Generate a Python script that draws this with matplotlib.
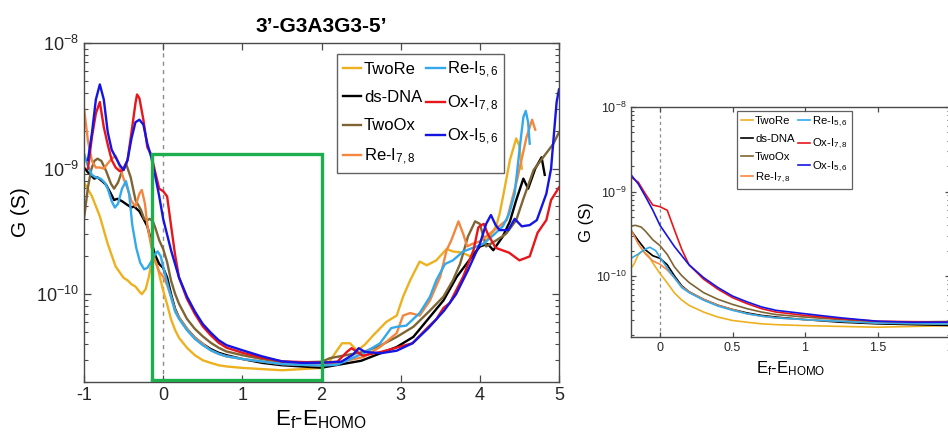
import matplotlib
matplotlib.use("Agg")
import matplotlib.pyplot as plt
from matplotlib.ticker import LogLocator, NullFormatter

plt.rcParams['font.family'] = ['Liberation Sans', 'DejaVu Sans']
plt.rcParams['mathtext.default'] = 'regular'
plt.rcParams['axes.unicode_minus'] = False

# ---- conductance spectra G(E_f - E_HOMO), in siemens ----
x_twore = [-1.0, -0.9, -0.8, -0.7, -0.6, -0.5, -0.45, -0.4, -0.35, -0.3, -0.27, -0.22, -0.18,
           -0.15, -0.12, -0.08, -0.04, 0.0, 0.05, 0.1, 0.15, 0.2, 0.3, 0.4, 0.5, 0.6, 0.7, 0.8,
           1.0, 1.5, 2.0, 2.1, 2.2, 2.26, 2.36, 2.45, 2.55, 2.65, 2.82, 2.95, 3.03, 3.12, 3.24,
           3.33, 3.45, 3.58, 3.66, 3.78, 3.88, 4.04, 4.15, 4.21, 4.25, 4.3, 4.38, 4.46, 4.5, 4.53]
g_twore = [7.76e-10, 6.03e-10, 4.17e-10, 2.51e-10, 1.66e-10, 1.35e-10, 1.29e-10, 1.20e-10,
           1.15e-10, 1.05e-10, 1.00e-10, 1.10e-10, 1.38e-10, 1.78e-10, 2.00e-10, 1.74e-10,
           1.35e-10, 1.07e-10, 8.3e-11, 6.3e-11, 5.2e-11, 4.5e-11, 3.75e-11, 3.27e-11,
           2.98e-11, 2.84e-11, 2.72e-11, 2.66e-11, 2.59e-11, 2.48e-11, 2.59e-11, 2.9e-11,
           3.6e-11, 4.07e-11, 4.07e-11, 3.55e-11, 3.98e-11, 4.68e-11, 6.03e-11, 6.76e-11,
           9.55e-11, 1.29e-10, 1.82e-10, 1.70e-10, 1.86e-10, 2.29e-10, 2.19e-10, 2.14e-10,
           2.00e-10, 2.51e-10, 3.02e-10, 3.55e-10, 4.37e-10, 6.31e-10, 1.17e-9, 1.74e-9,
           1.51e-9, 1.00e-9]

x_dsdna = [-1.0, -0.95, -0.87, -0.83, -0.77, -0.72, -0.66, -0.62, -0.58, -0.52, -0.45, -0.4,
           -0.37, -0.3, -0.24, -0.2, -0.15, -0.1, -0.05, 0.0, 0.05, 0.1, 0.15, 0.2, 0.3, 0.4,
           0.5, 0.6, 0.7, 0.8, 1.0, 1.25, 1.5, 2.0, 2.5, 2.95, 3.16, 3.37, 3.54, 3.71, 3.83,
           4.0, 4.1, 4.17, 4.29, 4.38, 4.46, 4.55, 4.61, 4.7, 4.78, 4.82]
g_dsdna = [1.02e-9, 9.33e-10, 8.32e-10, 8.51e-10, 7.94e-10, 7.41e-10, 6.31e-10, 5.62e-10,
           5.75e-10, 5.50e-10, 5.13e-10, 4.90e-10, 5.01e-10, 4.57e-10, 3.89e-10, 3.47e-10,
           2.63e-10, 2.04e-10, 1.74e-10, 1.62e-10, 1.36e-10, 1.0e-10, 7.66e-11, 6.52e-11,
           5.3e-11, 4.51e-11, 4.02e-11, 3.66e-11, 3.42e-11, 3.27e-11, 3.05e-11, 2.84e-11,
           2.72e-11, 2.6e-11, 2.95e-11, 3.80e-11, 4.57e-11, 6.61e-11, 8.91e-11, 1.38e-10,
           1.74e-10, 2.40e-10, 2.51e-10, 2.24e-10, 2.88e-10, 3.80e-10, 5.62e-10, 8.32e-10,
           6.92e-10, 1.00e-9, 1.23e-9, 8.91e-10]

x_twoox = [-1.0, -0.95, -0.91, -0.87, -0.83, -0.78, -0.72, -0.66, -0.62, -0.57, -0.52, -0.47,
           -0.41, -0.35, -0.28, -0.24, -0.2, -0.17, -0.13, -0.1, -0.05, 0.0, 0.05, 0.1, 0.15,
           0.2, 0.3, 0.4, 0.5, 0.6, 0.7, 0.8, 1.0, 1.5, 2.0, 2.11, 2.53, 2.74, 2.95, 3.16,
           3.37, 3.54, 3.66, 3.75, 3.85, 3.94, 4.0, 4.08, 4.21, 4.33, 4.46, 4.55, 4.68, 4.8,
           4.93, 5.0]
g_twoox = [3.98e-10, 7.08e-10, 9.77e-10, 1.15e-9, 1.20e-9, 1.15e-9, 9.55e-10, 7.59e-10,
           6.92e-10, 7.76e-10, 9.55e-10, 1.10e-9, 8.51e-10, 5.62e-10, 4.68e-10, 3.98e-10,
           3.89e-10, 3.98e-10, 3.80e-10, 3.39e-10, 2.69e-10, 2.29e-10, 1.8e-10, 1.28e-10,
           1.01e-10, 8.4e-11, 6.37e-11, 5.3e-11, 4.62e-11, 4.11e-11, 3.75e-11, 3.5e-11,
           3.27e-11, 2.84e-11, 2.9e-11, 3.1e-11, 3.47e-11, 3.89e-11, 4.57e-11, 5.50e-11,
           7.41e-11, 9.55e-11, 1.29e-10, 1.74e-10, 2.88e-10, 3.80e-10, 3.63e-10, 2.40e-10,
           2.69e-10, 3.02e-10, 3.89e-10, 5.75e-10, 9.77e-10, 1.23e-9, 1.58e-9, 1.95e-9]

x_rei78 = [-1.0, -0.95, -0.9, -0.85, -0.8, -0.75, -0.7, -0.65, -0.6, -0.55, -0.5, -0.45, -0.4,
           -0.35, -0.3, -0.27, -0.23, -0.2, -0.15, -0.1, -0.05, 0.0, 0.05, 0.1, 0.15, 0.2, 0.3,
           0.4, 0.5, 0.6, 0.7, 0.8, 1.0, 1.5, 2.0, 2.2, 2.53, 2.74, 2.95, 3.03, 3.12, 3.24,
           3.37, 3.5, 3.58, 3.64, 3.73, 3.79, 3.84, 3.9, 4.0, 4.1, 4.2, 4.34, 4.47, 4.59, 4.66,
           4.7]
g_rei78 = [3.02e-9, 1.66e-9, 1.15e-9, 1.02e-9, 1.02e-9, 1.00e-9, 1.10e-9, 1.20e-9, 1.26e-9,
           1.05e-9, 8.32e-10, 6.92e-10, 5.50e-10, 5.01e-10, 6.31e-10, 6.76e-10, 5.25e-10,
           3.55e-10, 2.40e-10, 1.82e-10, 1.51e-10, 1.38e-10, 1.18e-10, 9.5e-11, 7.5e-11,
           6.5e-11, 5.3e-11, 4.5e-11, 4.02e-11, 3.58e-11, 3.35e-11, 3.2e-11, 3.05e-11,
           2.78e-11, 2.7e-11, 2.85e-11, 3.16e-11, 3.80e-11, 4.90e-11, 6.76e-11, 7.08e-11,
           6.76e-11, 8.91e-11, 1.38e-10, 2.24e-10, 2.69e-10, 3.80e-10, 3.02e-10, 2.40e-10,
           2.51e-10, 2.63e-10, 2.95e-10, 3.31e-10, 3.89e-10, 8.13e-10, 1.78e-9, 2.45e-9,
           2.04e-9]

x_rei56 = [-1.0, -0.95, -0.9, -0.85, -0.79, -0.74, -0.7, -0.65, -0.61, -0.57, -0.52, -0.47,
           -0.43, -0.39, -0.34, -0.29, -0.24, -0.2, -0.15, -0.1, -0.07, -0.03, 0.0, 0.05, 0.1,
           0.15, 0.2, 0.3, 0.4, 0.5, 0.6, 0.7, 0.8, 1.0, 1.5, 2.0, 2.2, 2.53, 2.74, 2.88, 2.95,
           3.07, 3.24, 3.37, 3.45, 3.56, 3.66, 3.79, 3.96, 4.04, 4.17, 4.29, 4.37, 4.44, 4.51,
           4.55, 4.58, 4.61, 4.63]
g_rei56 = [1.32e-9, 1.05e-9, 8.91e-10, 8.51e-10, 8.32e-10, 7.76e-10, 6.92e-10, 5.50e-10,
           4.90e-10, 5.25e-10, 6.92e-10, 7.94e-10, 6.31e-10, 3.55e-10, 2.34e-10, 1.78e-10,
           1.58e-10, 1.62e-10, 1.82e-10, 2.09e-10, 2.19e-10, 2.00e-10, 1.66e-10, 1.24e-10,
           9.5e-11, 7.3e-11, 6.37e-11, 5.18e-11, 4.41e-11, 3.93e-11, 3.58e-11, 3.35e-11,
           3.2e-11, 3.05e-11, 2.78e-11, 2.7e-11, 2.75e-11, 3.39e-11, 4.07e-11, 5.37e-11,
           5.50e-11, 5.62e-11, 7.08e-11, 9.55e-11, 1.29e-10, 1.74e-10, 1.86e-10, 2.19e-10,
           2.40e-10, 2.51e-10, 2.95e-10, 3.47e-10, 4.37e-10, 6.31e-10, 1.58e-9, 2.57e-9,
           2.88e-9, 2.34e-9, 1.58e-9]

x_oxi78 = [-0.95, -0.9, -0.85, -0.8, -0.75, -0.7, -0.65, -0.6, -0.55, -0.5, -0.45, -0.4, -0.35,
           -0.33, -0.3, -0.25, -0.2, -0.15, -0.1, -0.05, 0.0, 0.05, 0.1, 0.15, 0.2, 0.3, 0.4,
           0.5, 0.6, 0.7, 0.8, 1.0, 1.25, 1.5, 2.0, 2.2, 2.32, 2.38, 2.45, 2.52, 2.75, 3.15,
           3.35, 3.45, 3.54, 3.62, 3.7, 3.79, 3.92, 3.98, 4.02, 4.05, 4.1, 4.2, 4.37, 4.5, 4.63,
           4.73, 4.84, 4.9, 5.0]
g_oxi78 = [1.00e-9, 1.78e-9, 2.75e-9, 3.39e-9, 2.14e-9, 1.55e-9, 1.17e-9, 1.02e-9, 9.55e-10,
           9.77e-10, 1.17e-9, 1.95e-9, 3.31e-9, 3.89e-9, 3.63e-9, 2.45e-9, 1.48e-9, 1.29e-9,
           9.33e-10, 6.92e-10, 6.61e-10, 6.0e-10, 3.5e-10, 2.07e-10, 1.36e-10, 9.2e-11,
           6.98e-11, 5.55e-11, 4.72e-11, 4.11e-11, 3.75e-11, 3.42e-11, 3.12e-11, 2.92e-11,
           2.85e-11, 2.9e-11, 3.47e-11, 3.72e-11, 3.47e-11, 3.24e-11, 3.47e-11, 4.07e-11,
           5.50e-11, 6.31e-11, 7.76e-11, 8.51e-11, 1.07e-10, 1.38e-10, 2.24e-10, 3.39e-10,
           3.55e-10, 3.63e-10, 3.02e-10, 2.34e-10, 2.14e-10, 1.86e-10, 2.00e-10, 3.09e-10,
           3.89e-10, 5.62e-10, 7.08e-10]

x_oxi56 = [-0.95, -0.9, -0.85, -0.8, -0.75, -0.7, -0.65, -0.6, -0.55, -0.5, -0.45, -0.4, -0.35,
           -0.3, -0.25, -0.2, -0.15, -0.1, -0.05, 0.0, 0.1, 0.2, 0.3, 0.4, 0.5, 0.6, 0.7, 0.8,
           1.0, 1.25, 1.5, 1.75, 2.0, 2.25, 2.4, 2.47, 2.55, 2.75, 2.95, 3.15, 3.35, 3.55, 3.7,
           3.85, 4.0, 4.08, 4.14, 4.2, 4.25, 4.36, 4.44, 4.53, 4.63, 4.72, 4.84, 4.9, 4.93,
           4.97, 5.0]
g_oxi56 = [1.17e-9, 1.91e-9, 3.55e-9, 4.68e-9, 3.55e-9, 1.95e-9, 1.41e-9, 1.23e-9, 1.07e-9,
           9.77e-10, 1.17e-9, 1.74e-9, 2.34e-9, 2.45e-9, 2.24e-9, 1.58e-9, 1.23e-9, 8.71e-10,
           6.03e-10, 3.98e-10, 2.23e-10, 1.36e-10, 9.6e-11, 7.3e-11, 5.8e-11, 4.95e-11,
           4.31e-11, 3.93e-11, 3.58e-11, 3.2e-11, 2.92e-11, 2.84e-11, 2.85e-11, 2.9e-11,
           3.31e-11, 3.72e-11, 3.47e-11, 3.39e-11, 3.55e-11, 4.07e-11, 5.37e-11, 7.41e-11,
           1.00e-10, 1.55e-10, 2.51e-10, 3.63e-10, 4.27e-10, 3.55e-10, 3.24e-10, 3.24e-10,
           3.98e-10, 3.47e-10, 3.55e-10, 3.89e-10, 6.31e-10, 1.00e-9, 1.70e-9, 3.39e-9, 4.27e-9]

labels = ["TwoRe", "ds-DNA", "TwoOx", "Re-I$_{7,8}$", "Re-I$_{5,6}$", "Ox-I$_{7,8}$", "Ox-I$_{5,6}$"]
colors = ["#EDB120", "#000000", "#7F6535", "#F3873F", "#33A9EC", "#E8151B", "#1515E3"]
xs = [x_twore, x_dsdna, x_twoox, x_rei78, x_rei56, x_oxi78, x_oxi56]
gs = [g_twore, g_dsdna, g_twoox, g_rei78, g_rei56, g_oxi78, g_oxi56]

# zoom window outlined on the full-range panel
zoom_x = [-0.14, 2.0]
zoom_g = [2.06e-11, 1.3e-9]

title = "3\u2019-G3A3G3-5\u2019"
xlabel = "E$_f$-E$_{HOMO}$"
ylabel = "G (S)"

fig = plt.figure(figsize=(9.48, 4.44), dpi=100)
ax = fig.add_axes([84 / 948, 1 - 382 / 444, 475 / 948, 339 / 444])
axi = fig.add_axes([631 / 948, 1 - 337 / 444, 319 / 948, 230 / 444])

spine_col = "#4a4a4a"


def style_axes(a, tick_size, minor_len, major_len):
    a.set_yscale("log")
    for s in a.spines.values():
        s.set_color(spine_col)
        s.set_linewidth(1.0)
    a.tick_params(which="both", direction="in", top=True, right=True, colors=spine_col,
                  labelcolor="#262626", labelsize=tick_size)
    a.tick_params(which="major", length=major_len, width=0.9)
    a.tick_params(which="minor", length=minor_len, width=0.8)
    a.yaxis.set_major_locator(LogLocator(base=10, numticks=10))
    a.yaxis.set_minor_locator(LogLocator(base=10, subs=range(2, 10), numticks=20))
    a.yaxis.set_minor_formatter(NullFormatter())


def boxed_legend(a, anchor, size, spacing, lw):
    leg = a.legend(ncol=2, loc="upper left", bbox_to_anchor=anchor, fontsize=size,
                   frameon=True, fancybox=False, handlelength=1.1, handletextpad=0.15,
                   columnspacing=0.25, labelspacing=spacing, borderpad=0.35, borderaxespad=0)
    leg.get_frame().set_edgecolor("#3a3a3a")
    leg.get_frame().set_linewidth(lw)
    return leg


# full-range panel
for x, g, c, lab in zip(xs, gs, colors, labels):
    ax.plot(x, g, color=c, lw=1.7, label=lab, solid_joinstyle="round")
ax.axvline(0, color="#8c8c8c", lw=1.0, ls=(0, (3, 3)), zorder=0)
ax.plot([zoom_x[0], zoom_x[1], zoom_x[1], zoom_x[0], zoom_x[0]],
        [zoom_g[0], zoom_g[0], zoom_g[1], zoom_g[1], zoom_g[0]],
        color="#1DAF4E", lw=2.4, solid_joinstyle="miter", zorder=5)
style_axes(ax, 13, 3, 5)
ax.set_xlim(-1, 5)
ax.set_ylim(2.0e-11, 1e-8)
ax.set_xticks([-1, 0, 1, 2, 3, 4, 5])
ax.set_title(title, fontsize=15, fontweight="bold", pad=8)
ax.set_xlabel(xlabel, fontsize=16, labelpad=3)
ax.set_ylabel(ylabel, fontsize=15, labelpad=4)
boxed_legend(ax, (0.533, 0.968), 12, 0.8, 1.0)

# zoomed panel
for x, g, c, lab in zip(xs, gs, colors, labels):
    axi.plot(x, g, color=c, lw=1.2, label=lab)
axi.axvline(0, color="#8c8c8c", lw=0.9, ls=(0, (2.5, 2.5)), zorder=0)
style_axes(axi, 9, 2, 3.5)
axi.set_xlim(-0.2, 2)
axi.set_ylim(1.9e-11, 1e-8)
axi.set_xticks([0, 0.5, 1, 1.5, 2])
axi.set_xticklabels(["0", "0.5", "1", "1.5", "2"])
axi.set_xlabel(xlabel, fontsize=12, labelpad=4)
axi.set_ylabel(ylabel, fontsize=12, labelpad=1)
boxed_legend(axi, (0.332, 0.983), 8.2, 0.7, 0.9)

fig.savefig("out.png", dpi=100)
